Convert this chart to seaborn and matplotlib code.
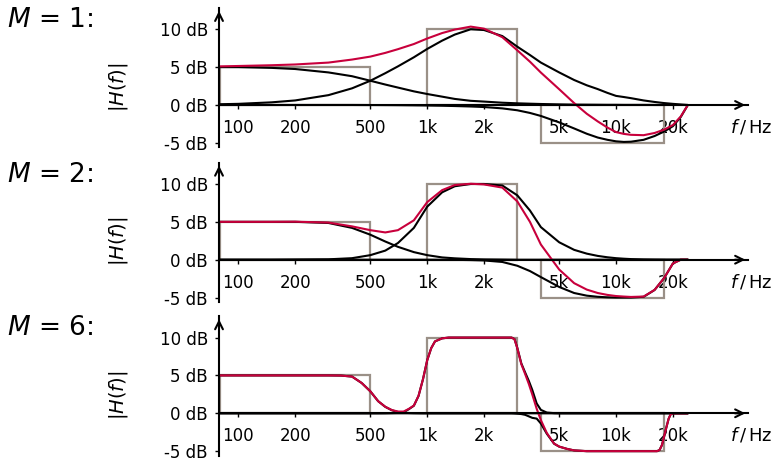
import numpy as np
import pandas as pd
import seaborn as sns
import matplotlib.pyplot as plt
from matplotlib.patches import Rectangle
from matplotlib.ticker import NullLocator
from matplotlib.transforms import blended_transform_factory

# frequency grids (Hz)
f12 = [80, 100, 150, 200, 300, 400, 500, 600, 700, 850, 1000, 1200, 1400, 1700, 2000, 2500,
       3000, 3500, 4000, 5000, 6000, 7000, 8000, 9000, 10000, 11000, 12000, 14000, 16000, 18000,
       20000, 22000, 24000]
f6 = [80, 100, 150, 200, 250, 300, 350, 400, 450, 500, 550, 600, 650, 700, 750, 800, 850, 900, 950, 1000,
      1050, 1100, 1200, 1300, 1500, 2000, 2500, 2800, 2900, 3000, 3150, 3300, 3450, 3600, 3800, 4000,
      4300, 4700, 5000, 5500, 6000, 7000, 10000, 14000, 16500, 17000, 17500, 18000, 18500, 19000,
      19500, 20000, 24000]

# M = 1 (dB)
low1 = [5.0, 5.0, 4.9, 4.75, 4.3, 3.8, 3.2, 2.7, 2.3, 1.8, 1.45, 1.1, 0.8, 0.55, 0.45, 0.3,
        0.22, 0.17, 0.13, 0.08, 0.05, 0.04, 0.03, 0.02, 0.02, 0.01, 0.01, 0.01, 0, 0, 0, 0, 0]
mid1 = [0.1, 0.15, 0.35, 0.6, 1.3, 2.2, 3.2, 4.2, 5.1, 6.3, 7.4, 8.5, 9.3, 10.0, 9.9, 9.1,
        7.7, 6.6, 5.6, 4.3, 3.3, 2.6, 2.1, 1.6, 1.2, 1.05, 0.9, 0.6, 0.4, 0.25, 0.15, 0.07, 0.0]
high1 = [0, 0, 0, 0, 0, 0, -0.01, -0.02, -0.03, -0.05, -0.07, -0.1, -0.14, -0.2, -0.27, -0.45,
         -0.7, -1.05, -1.45, -2.3, -3.1, -3.8, -4.3, -4.6, -4.8, -4.88, -4.85, -4.6, -4.1, -3.5,
         -2.8, -1.6, 0.0]
total1 = [5.1, 5.15, 5.25, 5.35, 5.6, 6.0, 6.39, 6.88, 7.37, 8.05, 8.78, 9.5, 9.96, 10.35, 10.08, 8.95,
          7.22, 5.72, 4.28, 2.08, 0.25, -1.16, -2.17, -2.98, -3.58, -3.82, -3.94, -3.99, -3.7, -3.25,
          -2.65, -1.53, 0.0]

# M = 2 (dB)
low2 = [5.0, 5.0, 5.0, 5.0, 4.85, 4.2, 3.3, 2.4, 1.7, 1.0, 0.6, 0.3, 0.18, 0.08, 0.04, 0.02,
        0, 0, 0, 0, 0, 0, 0, 0, 0, 0, 0, 0, 0, 0, 0, 0, 0]
mid2 = [0, 0, 0, 0.02, 0.05, 0.2, 0.6, 1.2, 2.2, 4.2, 7.0, 8.9, 9.7, 10.0, 10.0, 9.8,
        8.5, 6.5, 4.3, 2.3, 1.3, 0.8, 0.5, 0.32, 0.2, 0.13, 0.08, 0.03, 0.01, 0, 0, 0, 0]
high2 = [0, 0, 0, 0, 0, 0, 0, 0, 0, 0, 0, -0.01, -0.02, -0.05, -0.1, -0.3,
         -0.8, -1.5, -2.3, -3.6, -4.4, -4.75, -4.9, -4.97, -5.0, -5.0, -5.0, -4.9, -4.0, -2.4,
         -0.5, 0, 0]
total2 = [5.0, 5.0, 5.0, 5.02, 4.9, 4.4, 3.9, 3.6, 3.9, 5.2, 7.6, 9.19, 9.86, 10.03, 9.94, 9.52,
          7.7, 5.0, 2.0, -1.3, -3.1, -3.95, -4.4, -4.65, -4.8, -4.87, -4.92, -4.87, -3.99, -2.4,
          -0.5, 0, 0]

# M = 6 (dB)
low6 = [5, 5, 5, 5, 5, 5, 4.98, 4.85, 4.0, 2.9, 1.6, 0.85, 0.4, 0.18, 0.08, 0.04, 0.02, 0.01, 0, 0,
        0, 0, 0, 0, 0, 0, 0, 0, 0, 0, 0, 0, 0, 0, 0, 0, 0, 0, 0, 0, 0, 0, 0, 0, 0, 0, 0, 0, 0, 0,
        0, 0, 0]
mid6 = [0, 0, 0, 0, 0, 0, 0, 0, 0, 0, 0, 0.01, 0.03, 0.05, 0.15, 0.55, 1.0, 2.3, 4.5, 7.0,
        8.6, 9.5, 9.9, 10, 10, 10, 10, 10, 9.8, 8.65, 6.6, 5.4, 4.3, 3.1, 1.3, 0.45, 0.1, 0.02, 0, 0,
        0, 0, 0, 0, 0, 0, 0, 0, 0, 0, 0, 0, 0]
high6 = [0, 0, 0, 0, 0, 0, 0, 0, 0, 0, 0, 0, 0, 0, 0, 0, 0, 0, 0, 0,
         0, 0, 0, 0, 0, 0, 0, 0, -0.02, -0.05, -0.1, -0.2, -0.4, -0.6, -0.7, -1.35, -2.7, -4.02, -4.4, -4.7,
         -4.9, -5.0, -5.0, -5.0, -5.0, -4.85, -4.2, -3.0, -1.8, -0.7, -0.1, 0, 0]
total6 = [5, 5, 5, 5, 5, 5, 4.98, 4.85, 4.0, 2.9, 1.6, 0.86, 0.43, 0.23, 0.23, 0.59, 1.02, 2.31, 4.5, 7.0,
          8.6, 9.5, 9.9, 10, 10, 10, 10, 10, 9.78, 8.6, 6.5, 5.2, 3.9, 2.5, 0.6, -0.9, -2.6, -4.0, -4.4, -4.7,
          -4.9, -5.0, -5.0, -5.0, -5.0, -4.85, -4.2, -3.0, -1.8, -0.7, -0.1, 0, 0]

# target bands
band_lo = [80, 1000, 4000]
band_hi = [500, 3000, 18000]
band_gain = [5, 10, -5]

M_values = [1, 2, 6]
xtick_pos = [100, 200, 500, 1000, 2000, 5000, 10000, 20000]
xtick_lab = ['100', '200', '500', '1k', '2k', '5k', '10k', '20k']
ytick_pos = [-5, 0, 5, 10]
ytick_lab = ['-5 dB', '0 dB', '5 dB', '10 dB']

panels = [(f12, [low1, mid1, high1], total1),
          (f12, [low2, mid2, high2], total2),
          (f6, [low6, mid6, high6], total6)]

sns.set_style('white')
plt.rcParams['font.family'] = ['DejaVu Sans']
plt.rcParams['mathtext.fontset'] = 'dejavusans'
plt.rcParams['text.color'] = 'black'
plt.rcParams['axes.labelcolor'] = 'black'

red = '#c8003c'
gray = '#9a9087'

fig = plt.figure(figsize=(7.75, 4.61), dpi=100)
bottoms = [0.6803, 0.3447, 0.0115]

for i, (freq, bands, total) in enumerate(panels):
    ax = fig.add_axes([0.2826, bottoms[i], 0.6826, 0.3022])
    for b0, b1, g in zip(band_lo, band_hi, band_gain):
        ax.add_patch(Rectangle((b0, min(0, g)), b1 - b0, abs(g), fill=False,
                               edgecolor=gray, lw=1.6, zorder=1))
    for b in bands:
        df = pd.DataFrame({'f': freq, 'gain': b})
        sns.lineplot(data=df, x='f', y='gain', ax=ax, color='black', lw=1.5, zorder=3)
    df = pd.DataFrame({'f': freq, 'gain': total})
    sns.lineplot(data=df, x='f', y='gain', ax=ax, color=red, lw=1.5, zorder=4)

    ax.set_xscale('log')
    ax.set_xlim(79, 50000)
    ax.set_ylim(-5.6, 12.8)
    ax.xaxis.set_minor_locator(NullLocator())
    ax.set_xticks(xtick_pos, xtick_lab)
    ax.set_yticks(ytick_pos, ytick_lab)
    ax.tick_params(axis='both', labelsize=12, colors='black')
    ax.tick_params(axis='x', bottom=True, direction='out', length=3, width=1, pad=7)
    ax.tick_params(axis='y', left=True, direction='out', length=3, width=1, pad=5)
    ax.set_xlabel('')
    ax.set_ylabel('$|H(f)|$', fontsize=14, color='black')
    ax.yaxis.set_label_coords(-0.168, 0.434)

    ax.spines['top'].set_visible(False)
    ax.spines['right'].set_visible(False)
    ax.spines['bottom'].set_position(('data', 0))
    for s in ['bottom', 'left']:
        ax.spines[s].set_linewidth(1.5)
        ax.spines[s].set_color('black')
        ax.spines[s].set_zorder(5)
    ax.annotate('', xy=(1, 0), xytext=(0.97, 0), xycoords=('axes fraction', 'data'),
                arrowprops=dict(arrowstyle='->', lw=1.5, color='black', mutation_scale=14),
                annotation_clip=False)
    ax.annotate('', xy=(0, 1), xytext=(0, 0.9), xycoords='axes fraction',
                arrowprops=dict(arrowstyle='->', lw=1.5, color='black', mutation_scale=14),
                annotation_clip=False)

    tr = blended_transform_factory(ax.transAxes, ax.transData)
    ax.text(1.046, -2.9, '$f\\,/\\,$Hz', transform=tr, ha='right', va='center', fontsize=13,
            color='black')
    ax.text(-0.40, 0.915, '$M$ = %d:' % M_values[i], transform=ax.transAxes,
            ha='left', va='center', fontsize=19, color='black')

plt.savefig('out.png', dpi=100)
